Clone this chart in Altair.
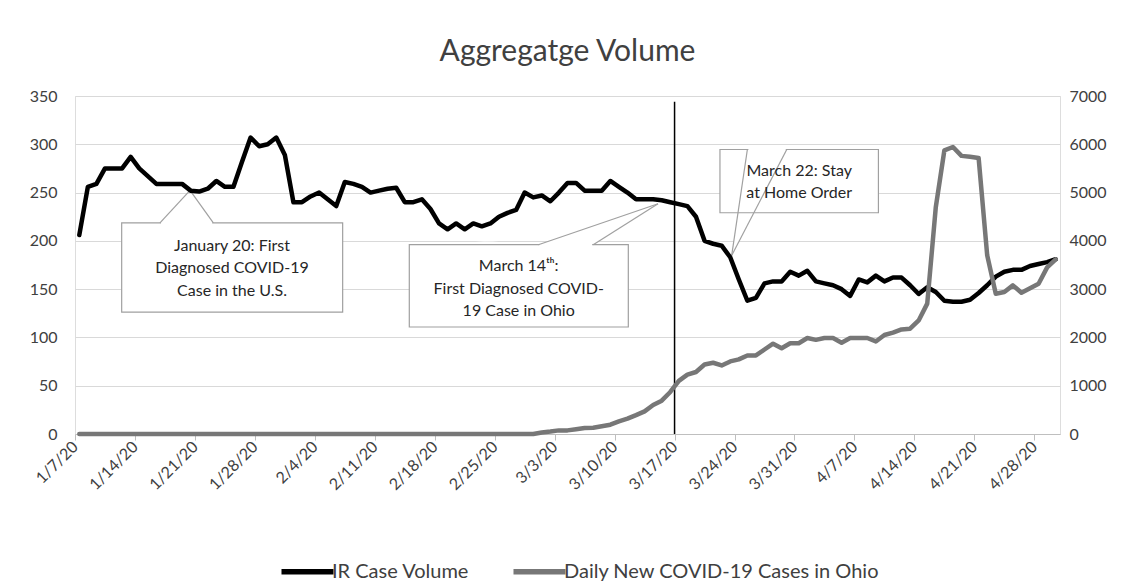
import altair as alt
import pandas as pd

# ---------------- data ----------------
start_date = "2020-01-07"

ir_volume = [206, 256, 259, 275, 275, 275, 287, 275, 267, 259,
             259, 259, 259, 252, 251, 254, 262, 256, 256, 282,
             307, 298, 300, 307, 289, 240, 240, 246, 250, 243,
             236, 261, 259, 256, 250, 252, 254,
             255, 240, 240, 243, 233, 218, 212, 218, 212, 218,
             215, 218, 225, 229, 232, 250, 245, 247, 241, 250,
             260, 260, 252, 252, 252, 262, 256, 250, 243, 243,
             243, 242, 240, 238, 236, 225, 200, 197, 195, 183,
             160, 138, 141, 156, 158, 158, 168, 164, 169, 158,
             156, 154, 150, 143, 160, 157, 164, 158, 162, 162,
             154, 145, 152, 147, 138, 137, 137, 139, 146, 154,
             163, 168, 170, 170, 174, 176, 178, 181]

ohio_cases = [0, 0, 0, 0, 0, 0, 0, 0, 0, 0,
              0, 0, 0, 0, 0, 0, 0, 0, 0, 0,
              0, 0, 0, 0, 0, 0, 0, 0, 0, 0,
              0, 0, 0, 0, 0, 0, 0, 0, 0, 0,
              0, 0, 0, 0, 0, 0, 0, 0, 0, 0,
              0, 0, 0, 0, 30, 50, 75, 75, 100, 124,
              130, 160, 193, 261, 317, 390, 468, 600, 690, 870,
              1100, 1230, 1284, 1440, 1476, 1420, 1503, 1545, 1627, 1627,
              1750, 1870, 1775, 1880, 1880, 1988, 1950, 1988, 1988, 1890,
              1988, 1988, 1988, 1917, 2050, 2100, 2166, 2180, 2352, 2700,
              4700, 5874, 5944, 5760, 5740, 5717, 3700, 2906, 2940, 3078,
              2927, 3020, 3113, 3450, 3617]

tick_days = [(1, 7), (1, 14), (1, 21), (1, 28), (2, 4), (2, 11), (2, 18), (2, 25),
             (3, 3), (3, 10), (3, 17), (3, 24), (3, 31), (4, 7), (4, 14), (4, 21), (4, 28)]
left_ticks = [0, 50, 100, 150, 200, 250, 300, 350]
right_ticks = [0, 1000, 2000, 3000, 4000, 5000, 6000, 7000]

series_names = ["IR Case Volume", "Daily New COVID-19 Cases in Ohio"]
title_text = "Aggregatge Volume"

callout_texts = [
    ["January 20: First", "Diagnosed COVID-19", "Case in the U.S."],
    ["March 14\u1d57\u02b0:", "First Diagnosed COVID-", "19 Case in Ohio"],
    ["March 22: Stay", "at Home Order"],
]

# ---------------- layout of callouts (day offsets from start, left-axis units) ----
callouts = [
    dict(box=(5.45, 31.25, 218.7, 126.3), base=(9.92, 16.15), tip=(13.43, 252.2),
         tx=18.33, ty=[194.5, 171.5, 148.0]),
    dict(box=(39.03, 64.6, 196.0, 110.8), base=(54.1, 60.5), tip=(68.07, 238.4),
         tx=51.8, ty=[173.5, 150.0, 127.0]),
    dict(box=(75.3, 93.8, 294.6, 229.1), base=(78.5, 83.1), tip=(76.67, 184.9),
         tx=84.55, ty=[272.0, 249.5]),
]

FONT = "Lato"
TEXT_COLOR = "#404040"
GREY_LINE = "#777777"
BOX_STROKE = "#a0a0a0"

start = pd.Timestamp(start_date)


def ts(day):
    return (start + pd.Timedelta(days=day)).strftime("%Y-%m-%dT%H:%M:%S")


dates = [ts(i + 0.5) for i in range(len(ir_volume))]
ir_df = pd.DataFrame({"date": dates, "value": ir_volume, "series": series_names[0]})
ohio_df = pd.DataFrame({"date": dates, "value": ohio_cases, "series": series_names[1]})

box_rows, tri_rows, gap_rows, ptr_rows, txt_rows = [], [], [], [], []
for k, c in enumerate(callouts):
    x1, x2, yt, yb = c["box"]
    b1, b2 = c["base"]
    tdx, tdy = c["tip"]
    box_rows.append(dict(x=ts(x1), x2=ts(x2), y=yt, y2=yb))
    tri_rows.append(dict(k=k, y=yt, x=ts(b1), x2=ts(b2)))
    tri_rows.append(dict(k=k, y=tdy, x=ts(tdx), x2=ts(tdx)))
    gap_rows.append(dict(x=ts(b1 + 0.12), x2=ts(b2 - 0.12), y=yt))
    ptr_rows.append(dict(x=ts(b1), y=yt, x2=ts(tdx), y2=tdy))
    ptr_rows.append(dict(x=ts(b2), y=yt, x2=ts(tdx), y2=tdy))
    for line, yv in zip(callout_texts[k], c["ty"]):
        txt_rows.append(dict(x=ts(c["tx"]), y=yv, t=line))

box_df = pd.DataFrame(box_rows)
tri_df = pd.DataFrame(tri_rows)
gap_df = pd.DataFrame(gap_rows)
ptr_df = pd.DataFrame(ptr_rows)
txt_df = pd.DataFrame(txt_rows)
vline_df = pd.DataFrame({"x": [ts(70)], "y": [0], "y2": [344]})

# ---------------- scales ----------------
x_domain = [alt.DateTime(year=2020, month=1, date=7),
            alt.DateTime(year=2020, month=5, date=1)]
x_scale = alt.Scale(domain=x_domain, nice=False)
y_left = alt.Scale(domain=[0, 350], nice=False)
y_right = alt.Scale(domain=[0, 7000], nice=False)

x_axis = alt.Axis(
    values=[alt.DateTime(year=2020, month=m, date=d) for m, d in tick_days],
    format="%-m/%-d/%y", labelAngle=-45, labelAlign="right", labelBaseline="middle",
    labelFontSize=16, labelFont=FONT, labelColor=TEXT_COLOR, labelPadding=4,
    tickSize=6, tickColor="#bfbfbf", domainColor="#bfbfbf", domainWidth=1,
    grid=False, title=None, labelOverlap=False, labelFlush=False,
)
y_axis_left = alt.Axis(
    values=left_ticks, grid=True, gridColor="#d9d9d9", gridWidth=1,
    domain=False, ticks=False, labelFontSize=16, labelFont=FONT,
    labelColor=TEXT_COLOR, labelPadding=18, title=None,
    minExtent=62, maxExtent=62, orient="left",
)
y_axis_right = alt.Axis(
    values=right_ticks, grid=False, domain=False, ticks=False, format="d",
    labelFontSize=16, labelFont=FONT, labelColor=TEXT_COLOR, labelPadding=9,
    title=None, orient="right",
)

color_scale = alt.Scale(domain=series_names, range=["#000000", GREY_LINE])
legend = alt.Legend(
    title=None, orient="none", legendX=219, legendY=462, direction="horizontal",
    symbolType="M-2.5,0H2.5", symbolSize=433, symbolStrokeWidth=5.5,
    labelFont=FONT, labelFontSize=20, labelColor=TEXT_COLOR, labelLimit=500,
    labelOffset=11, columnPadding=32, padding=0,
)


def X(field):
    return alt.X(field, scale=x_scale, axis=x_axis)


def YL(field):
    return alt.Y(field, scale=y_left, axis=y_axis_left)


# ---------------- layers ----------------
tri = alt.Chart(tri_df).mark_area(orient="horizontal", color="white", opacity=1).encode(
    y=YL("y:Q"), x=X("x:T"), x2="x2:T", detail="k:N",
)
boxes = alt.Chart(box_df).mark_rect(fill="white", stroke=BOX_STROKE, strokeWidth=1.2).encode(
    x=X("x:T"), x2="x2:T", y=YL("y:Q"), y2="y2:Q",
)
gaps = alt.Chart(gap_df).mark_rule(color="white", strokeWidth=2.5).encode(
    x=X("x:T"), x2="x2:T", y=YL("y:Q"),
)
pointers = alt.Chart(ptr_df).mark_rule(color=BOX_STROKE, strokeWidth=1.2).encode(
    x=X("x:T"), x2="x2:T", y=YL("y:Q"), y2="y2:Q",
)
texts = alt.Chart(txt_df).mark_text(
    font=FONT, fontSize=16, color="#262626", align="center", baseline="middle"
).encode(
    x=X("x:T"), y=YL("y:Q"), text="t:N",
)
ir_line = alt.Chart(ir_df).mark_line(
    strokeWidth=4.5, strokeJoin="round", strokeCap="round"
).encode(
    x=X("date:T"), y=YL("value:Q"),
    color=alt.Color("series:N", scale=color_scale, legend=legend),
)
vline = alt.Chart(vline_df).mark_rule(color="#000000", strokeWidth=1.5).encode(
    x=X("x:T"), y=YL("y:Q"), y2="y2:Q",
)
ohio_line = alt.Chart(ohio_df).mark_line(
    strokeWidth=4.5, strokeJoin="round", strokeCap="round"
).encode(
    x=X("date:T"),
    y=alt.Y("value:Q", scale=y_right, axis=y_axis_right),
    color=alt.Color("series:N", scale=color_scale, legend=legend),
)

left_group = alt.layer(tri, boxes, gaps, pointers, texts, ir_line, vline)

chart = alt.layer(left_group, ohio_line).resolve_scale(y="independent").properties(
    width=985,
    height=338,
    padding={"left": 5, "top": 29, "right": 5, "bottom": 2},
    title=alt.TitleParams(title_text, font=FONT, fontSize=30, fontWeight="normal",
                          color=TEXT_COLOR, anchor="middle", frame="group", offset=21),
).configure_view(stroke=None).configure(background="white")

chart.save("out.html", embed_options={"renderer": "svg", "actions": False})
